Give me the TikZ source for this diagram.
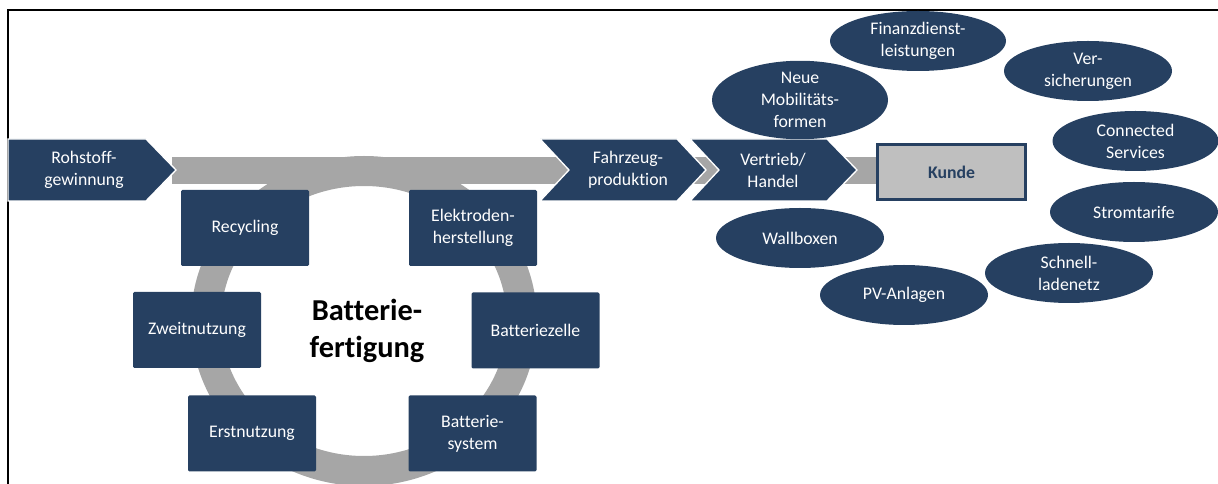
\documentclass[tikz,border=0pt]{standalone}
\usepackage{fontspec}
\setmainfont[Ligatures={NoCommon}]{Carlito}
\usetikzlibrary{shapes.geometric}
\definecolor{navy}{RGB}{38,64,97}
\definecolor{band}{RGB}{166,166,166}
\definecolor{kundefill}{RGB}{191,191,191}
\begin{document}
\begin{tikzpicture}[x=0.75pt,y=-0.75pt,
  txt/.style={font=\fontsize{13.3}{16.5}\selectfont, text=white, align=center},
  stepbox/.style={txt, fill=navy, rounded corners=1pt, minimum width=96pt, minimum height=57pt, inner sep=0pt},
  bubble/.style={txt, ellipse, fill=navy, minimum width=126pt, minimum height=45pt, inner sep=0pt},
  chev/.style={fill=navy, draw=white, line width=1pt},
  greyband/.style={fill=band, draw=none}
]
\useasboundingbox (0,0) rectangle (1218,484);
% frame
\draw[line width=1.1pt, line cap=rect] (8,484) -- (8,10) -- (1218,10);
% ring
\draw[band, line width=22.5pt] (364,321) ellipse [x radius=158, y radius=150];
% band
\fill[greyband] (172,157) rectangle (876,184);
% chevrons
\draw[chev] (8,139) -- (146,139) -- (176,170) -- (146,201) -- (8,201) -- cycle;
\node[txt] (rohstoff) at (84,170) {Rohstoff-\\gewinnung};
\draw[chev] (540,139) -- (677,139) -- (706,170) -- (677,201) -- (540,201) -- (569,170) -- cycle;
\node[txt] (fahrzeug) at (628,170) {Fahrzeug-\\produktion};
\draw[chev] (690,139) -- (827,139) -- (857,170) -- (827,201) -- (690,201) -- (719,170) -- cycle;
\node[txt] (vertrieb) at (773,170) {Vertrieb/\\Handel};
% Kunde
\node[draw=navy, line width=1.9pt, fill=kundefill, minimum width=111pt, minimum height=41.5pt, inner sep=0pt,
      font=\fontsize{13.3}{16.5}\selectfont\bfseries, text=navy] (kunde) at (951.5,172) {Kunde};
% battery cycle boxes
\node[stepbox] (recycling) at (245,228) {Recycling};
\node[stepbox] (elektroden) at (473,228) {Elektroden-\\herstellung};
\node[stepbox] (zweit) at (197,330) {Zweitnutzung};
\node[stepbox] (zelle) at (535.5,330.5) {Batteriezelle};
\node[stepbox] (erst) at (252,433.5) {Erstnutzung};
\node[stepbox] (system) at (472.5,433.5) {Batterie-\\system};
\node[font=\fontsize{22.8}{27.75}\selectfont\bfseries, align=center] (fertigung) at (367,331) {Batterie-\\fertigung};
% bubbles
\node[bubble, minimum width=132pt] (finanz) at (918,41) {Finanzdienst-\\leistungen};
\node[bubble] (vers) at (1088,71) {Ver-\\sicherungen};
\node[bubble, minimum width=132pt] (neue) at (800,100) {Neue\\Mobilitäts-\\formen};
\node[bubble, minimum width=124.5pt] (connected) at (1135.5,141) {Connected\\Services};
\node[bubble] (strom) at (1134,212) {Stromtarife};
\node[bubble] (wallbox) at (800,238) {Wallboxen};
\node[bubble] (schnell) at (1069,273) {Schnell-\\ladenetz};
\node[bubble] (pv) at (904,295) {PV-Anlagen};
\end{tikzpicture}
\end{document}
